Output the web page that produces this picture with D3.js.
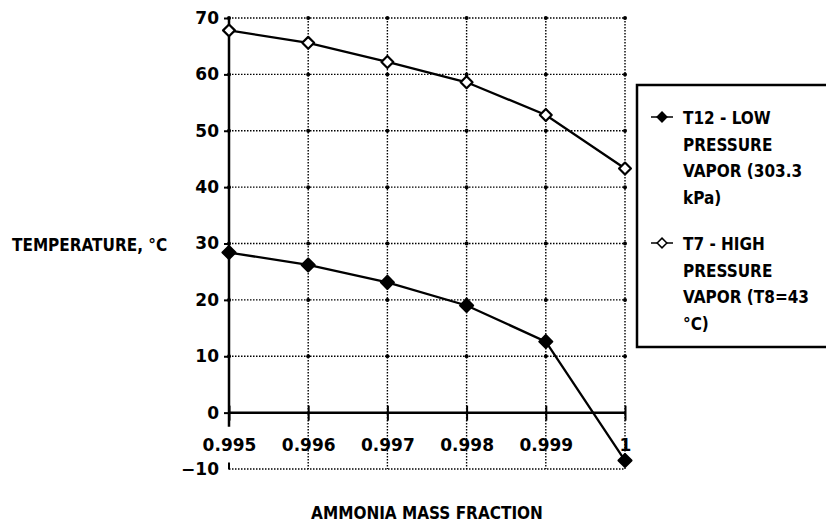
<!DOCTYPE html>
<html><head><meta charset="utf-8">
<script src="https://cdn.jsdelivr.net/npm/d3@7"></script>
<style>
body{margin:0;background:#fff;}
text{font-family:"DejaVu Sans Condensed","DejaVu Sans",sans-serif;font-weight:bold;fill:#000;}
</style></head>
<body><svg id="c" width="826" height="523"></svg>
<script>
const xValues = [0.995, 0.996, 0.997, 0.998, 0.999, 1];
const xTickLabels = ["0.995", "0.996", "0.997", "0.998", "0.999", "1"];
const yTicks = [-10, 0, 10, 20, 30, 40, 50, 60, 70];
const lowPressure = [28.4, 26.2, 23.1, 19.0, 12.6, -8.5];   // T12
const highPressure = [67.8, 65.6, 62.2, 58.6, 52.8, 43.3];  // T7
const legendLow = ["T12 - LOW", "PRESSURE", "VAPOR (303.3", "kPa)"];
const legendHigh = ["T7 - HIGH", "PRESSURE", "VAPOR (T8=43", "°C)"];
const yTitle = "TEMPERATURE, °C";
const xTitle = "AMMONIA MASS FRACTION";

const svg = d3.select("#c");
const L = 229, R = 625, T = 18, B = 469;
const x = d3.scaleLinear().domain([0.995, 1]).range([L, R]);
const y = d3.scaleLinear().domain([-10, 70]).range([B, T]);
const tickFont = "DejaVu Sans";

const g = svg.append("g");
// dotted grid
g.selectAll(".hg").data(yTicks.filter(d => d !== 0)).join("line")
  .attr("x1", L).attr("x2", R).attr("y1", d => y(d)).attr("y2", d => y(d))
  .attr("stroke", "#000").attr("stroke-width", 1.4).attr("stroke-dasharray", "1.5,1.5");
g.selectAll(".vg").data(xValues.slice(1)).join("line")
  .attr("x1", d => x(d)).attr("x2", d => x(d)).attr("y1", T).attr("y2", B)
  .attr("stroke", "#000").attr("stroke-width", 1.4).attr("stroke-dasharray", "1.5,1.5");
// intersection dots
const pts = [];
yTicks.forEach(v => xValues.forEach(u => { if (v !== 0 && v !== -10) pts.push([u, v]); }));
g.selectAll(".dot").data(pts).join("circle")
  .attr("cx", d => x(d[0])).attr("cy", d => y(d[1])).attr("r", 2).attr("fill", "#000");

// y axis (solid)
const yAxis = d3.axisLeft(y).tickValues(yTicks).tickSize(5).tickPadding(5).tickFormat(d3.format("d"));
const ya = svg.append("g").attr("transform", `translate(${L},0)`).call(yAxis);
ya.select(".domain").attr("d", `M0,${y(70)}V${y(0) + 14}`).attr("stroke-width", 2.5);
ya.selectAll(".tick line").attr("stroke-width", 2);
ya.selectAll(".tick text").attr("font-size", 17).style("font-family", tickFont).style("font-weight", "bold");
ya.selectAll(".tick").filter(d => d === -10).select("line").attr("x2", 0)
  .attr("y1", -7).attr("y2", 0);

// x axis along zero
const xAxis = d3.axisBottom(x).tickValues(xValues).tickFormat((d, i) => xTickLabels[i]).tickSize(8).tickPadding(18);
const xa = svg.append("g").attr("transform", `translate(0,${y(0)})`).call(xAxis);
xa.select(".domain").attr("d", `M${L},0H${R}`).attr("stroke-width", 2.5);
xa.selectAll(".tick line").attr("y1", -7).attr("stroke-width", 2);
xa.selectAll(".tick text").attr("font-size", 17).style("font-family", tickFont).style("font-weight", "bold");

// lines
const line = d3.line().x((d, i) => x(xValues[i])).y(d => y(d));
svg.append("path").datum(highPressure).attr("d", line).attr("fill", "none").attr("stroke", "#000").attr("stroke-width", 2.3);
svg.append("path").datum(lowPressure).attr("d", line).attr("fill", "none").attr("stroke", "#000").attr("stroke-width", 2.3);

const diamond = d3.symbol().type(d3.symbolDiamond2).size(90);
svg.selectAll(".hm").data(highPressure).join("path")
  .attr("transform", (d, i) => `translate(${x(xValues[i])},${y(d)})`)
  .attr("d", diamond).attr("fill", "#fff").attr("stroke", "#000").attr("stroke-width", 2.2).attr("stroke-linejoin", "round");
svg.selectAll(".lm").data(lowPressure).join("path")
  .attr("transform", (d, i) => `translate(${x(xValues[i])},${y(d)})`)
  .attr("d", d3.symbol().type(d3.symbolDiamond2).size(110)).attr("fill", "#000").attr("stroke", "#000").attr("stroke-width", 2).attr("stroke-linejoin", "round");

// axis titles
svg.append("text").attr("x", 12).attr("y", 251).attr("font-size", 17).text(yTitle);
svg.append("text").attr("x", 427).attr("y", 519).attr("text-anchor", "middle").attr("font-size", 17).text(xTitle);

// legend
const lg = svg.append("g");
lg.append("rect").attr("x", 637).attr("y", 85).attr("width", 200).attr("height", 262)
  .attr("fill", "#fff").attr("stroke", "#000").attr("stroke-width", 2.5);
const entries = [{lines: legendLow, filled: true, y0: 117}, {lines: legendHigh, filled: false, y0: 243}];
entries.forEach(e => {
  lg.append("line").attr("x1", 651).attr("x2", 673).attr("y1", e.y0).attr("y2", e.y0).attr("stroke", "#000").attr("stroke-width", 1.5);
  lg.append("path").attr("transform", `translate(662,${e.y0})`).attr("d", d3.symbol().type(d3.symbolDiamond2).size(60))
    .attr("fill", e.filled ? "#000" : "#fff").attr("stroke", "#000").attr("stroke-width", 1.5);
  e.lines.forEach((t, i) => {
    lg.append("text").attr("x", 683).attr("y", e.y0 + 7 + i * 26.5).attr("font-size", 17).text(t);
  });
});
</script></body></html>
